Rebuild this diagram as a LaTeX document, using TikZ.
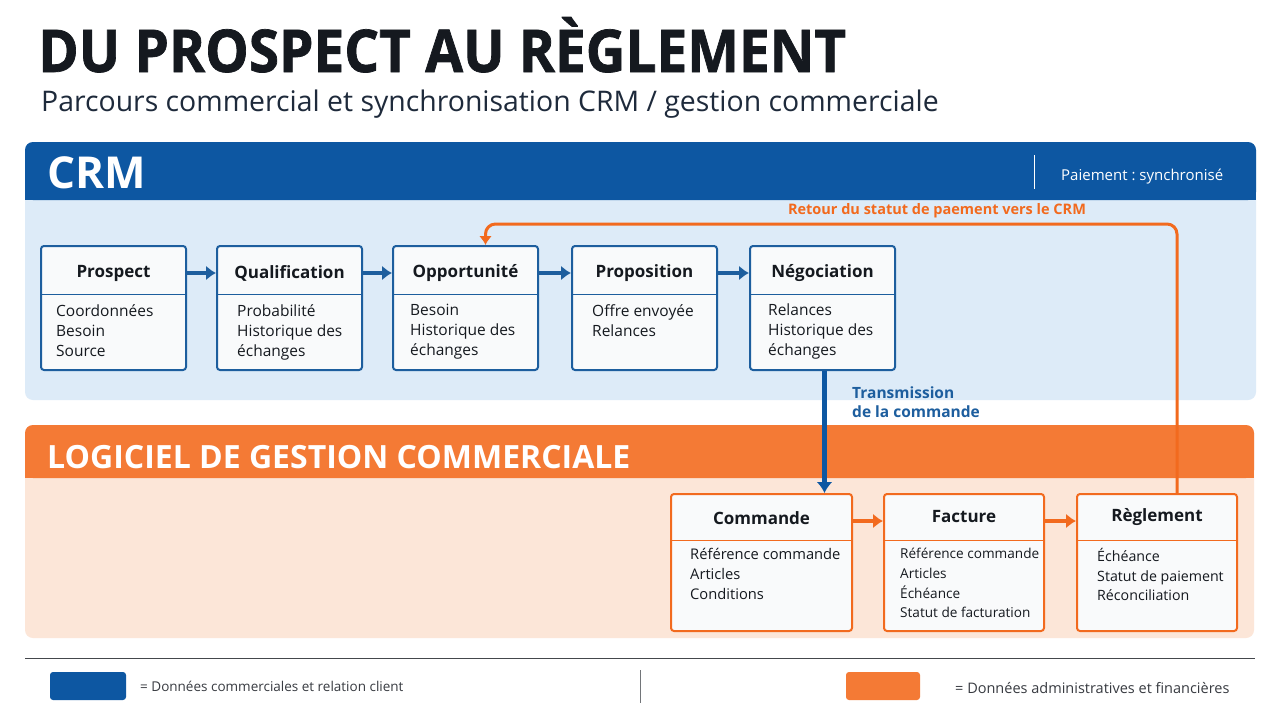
\documentclass[tikz,border=0pt]{standalone}
\usepackage{fontspec}
\setmainfont{Open Sans}
\newfontfamily\titlefont[FakeStretch=0.93,FakeBold=1.2]{Open Sans}
\usetikzlibrary{arrows.meta,positioning}
\definecolor{crmblue}{HTML}{0D57A2}
\definecolor{boxblue}{HTML}{1D5E9E}
\definecolor{crmbg}{HTML}{DDEBF8}
\definecolor{gcorange}{HTML}{F47A35}
\definecolor{lineorange}{HTML}{F26A1E}
\definecolor{gcbg}{HTML}{FCE6D8}
\definecolor{inkdark}{HTML}{15191F}
\definecolor{subnavy}{HTML}{1E2A3B}
\definecolor{boxfill}{HTML}{F9FAFB}
\begin{document}
\begin{tikzpicture}[x=1pt,y=-1pt, every node/.style={inner sep=0pt,text=inkdark}]
  \tikzstyle{crmbox}=[draw=boxblue,line width=2pt,rounded corners=3pt,fill=boxfill,minimum width=145pt,minimum height=124pt,anchor=north west]
  \tikzstyle{gcbox}=[draw=lineorange,line width=2pt,rounded corners=3pt,fill=boxfill,minimum width=160pt,minimum height=137pt,anchor=north west]
  \tikzstyle{head}=[font=\fontsize{17}{20}\selectfont\bfseries]
  \tikzstyle{body}=[font=\fontsize{15.5}{20}\selectfont,align=left,anchor=north west]
  \tikzstyle{bluearrow}=[line width=4pt,boxblue,-{Latex[length=10pt,width=15pt]}]
  \tikzstyle{orangearrow}=[line width=4pt,lineorange,-{Latex[length=10pt,width=15pt]}]
  \useasboundingbox (0,0) rectangle (1280,720);
  \fill[white] (0,0) rectangle (1280,720);
  % titles
  \node[anchor=base west,font=\fontsize{59}{64}\titlefont\bfseries] (title) at (38,72) {DU PROSPECT AU RÈGLEMENT};
  \node[anchor=base west,font=\fontsize{28.4}{32}\selectfont,text=subnavy] (subtitle) at (41,111) {Parcours commercial et synchronisation CRM / gestion commerciale};
  % CRM panel
  \fill[crmbg,rounded corners=8pt] (25,142) rectangle (1256,400);
  \fill[crmblue,rounded corners=8pt] (25,142) rectangle (1256,200);
  \fill[crmblue] (25,185) rectangle (1256,200);
  \node[anchor=base west,font=\fontsize{44}{48}\selectfont\bfseries,text=white] (crm) at (47,188) {CRM};
  \draw[white,line width=1pt] (1034,155) -- (1034,189);
  \node[anchor=base west,font=\fontsize{15}{18}\selectfont,text=white] (sync) at (1061,180) {Paiement\ :\ synchronisé};
  % gestion commerciale panel
  \fill[gcbg,rounded corners=8pt] (25,425) rectangle (1254,638);
  \fill[gcorange,rounded corners=8pt] (25,425) rectangle (1254,478);
  \fill[gcorange] (25,465) rectangle (1254,478);
  \node[anchor=base west,font=\fontsize{32}{36}\selectfont\bfseries,text=white] (gc) at (47,468) {LOGICIEL DE GESTION COMMERCIALE};
  % CRM steps
  \node[crmbox] (pros) at (40,245) {};
  \node[crmbox] (qual) at (216,245) {};
  \node[crmbox] (oppo) at (392,245) {};
  \node[crmbox] (prop) at (571,245) {};
  \node[crmbox] (nego) at (749,245) {};
  \foreach \b in {pros,qual,oppo,prop,nego}
    \draw[boxblue,line width=1pt] ([yshift=-49pt]\b.north west) -- ([yshift=-49pt]\b.north east);
  \node[head] (prosh) at ([yshift=-28pt]pros.north) {Prospect};
  \node[head] (qualh) at ([yshift=-28pt]qual.north) {Qualification};
  \node[head] (oppoh) at ([yshift=-28pt]oppo.north) {Opportunité};
  \node[head] (proph) at ([yshift=-28pt]prop.north) {Proposition};
  \node[head] (negoh) at ([yshift=-28pt]nego.north) {Négociation};
  \node[body] (prosb) at ([xshift=16pt,yshift=-59pt]pros.north west) {Coordonnées\\Besoin\\Source};
  \node[body] (qualb) at ([xshift=21pt,yshift=-59pt]qual.north west) {Probabilité\\Historique des\\échanges};
  \node[body] (oppob) at ([xshift=18pt,yshift=-59pt]oppo.north west) {Besoin\\Historique des\\échanges};
  \node[body] (propb) at ([xshift=21pt,yshift=-59pt]prop.north west) {Offre envoyée\\Relances};
  \node[body] (negob) at ([xshift=19pt,yshift=-59pt]nego.north west) {Relances\\Historique des\\échanges};
  \draw[bluearrow] (pros.east |- prosh) -- (qual.west |- prosh);
  \draw[bluearrow] (qual.east |- qualh) -- (oppo.west |- qualh);
  \draw[bluearrow] (oppo.east |- oppoh) -- (prop.west |- oppoh);
  \draw[bluearrow] (prop.east |- proph) -- (nego.west |- proph);
  % gestion commerciale steps
  \node[gcbox,minimum width=181pt] (comm) at (670,493) {};
  \node[gcbox] (fact) at (883,493) {};
  \node[gcbox] (regl) at (1076,493) {};
  \foreach \b in {comm,fact,regl}
    \draw[lineorange,line width=1pt] ([yshift=-47pt]\b.north west) -- ([yshift=-47pt]\b.north east);
  \node[head] (commh) at ([yshift=-25pt]comm.north) {Commande};
  \node[head] (facth) at ([yshift=-24pt]fact.north) {Facture};
  \node[head] (reglh) at ([yshift=-24pt]regl.north) {Règlement};
  \node[body,font=\fontsize{14.7}{20}\selectfont] (commb) at ([xshift=20pt,yshift=-55pt]comm.north west) {Référence commande\\Articles\\Conditions};
  \node[body,font=\fontsize{13.6}{19.7}\selectfont] (factb) at ([xshift=17pt,yshift=-55pt]fact.north west) {Référence commande\\Articles\\Échéance\\Statut de facturation};
  \node[body,font=\fontsize{14.2}{19.7}\selectfont] (reglb) at ([xshift=21pt,yshift=-55pt]regl.north west) {Échéance\\Statut de paiement\\Réconciliation};
  \draw[orangearrow] (comm.east |- 0,521) -- (fact.west |- 0,521);
  \draw[orangearrow] (fact.east |- 0,521) -- (regl.west |- 0,521);
  % synchronisation
  \draw[line width=4.5pt,crmblue,-{Latex[length=11pt,width=16pt]}] ([xshift=2pt]nego.south) -- ([xshift=2pt]nego.south |- comm.north);
  \node[anchor=north west,align=left,font=\fontsize{15.5}{19}\selectfont\bfseries,text=boxblue] (trans) at (852,387) {Transmission\\de la commande};
  \coordinate (retup) at (1177,224);
  \draw[line width=3pt,lineorange,rounded corners=10pt,-{Latex[length=9pt,width=13pt]}] (regl.north -| retup) -- (retup) -| ([xshift=20pt]oppo.north);
  \node[font=\fontsize{14.5}{17}\selectfont\bfseries,text=lineorange] (retour) at (937,211) {Retour du statut de paement vers le CRM};
  % legend
  \draw[inkdark!80,line width=1pt] (25,658) -- (1255,658);
  \node[fill=crmblue,rounded corners=3pt,minimum width=76pt,minimum height=28pt] (legcrm) at (88,686) {};
  \node[anchor=west,font=\fontsize{13.5}{16}\selectfont,text=inkdark!85] (legcrmt) at (140,686) {= Données commerciales et relation client};
  \draw[inkdark!60,line width=0.8pt] (640,670) -- (640,703);
  \node[fill=gcorange,rounded corners=3pt,minimum width=74pt,minimum height=28pt] (leggc) at (883,686) {};
  \node[anchor=west,font=\fontsize{14.5}{17}\selectfont,text=inkdark!85] (leggct) at (955,688) {= Données administratives et financières};
\end{tikzpicture}
\end{document}
